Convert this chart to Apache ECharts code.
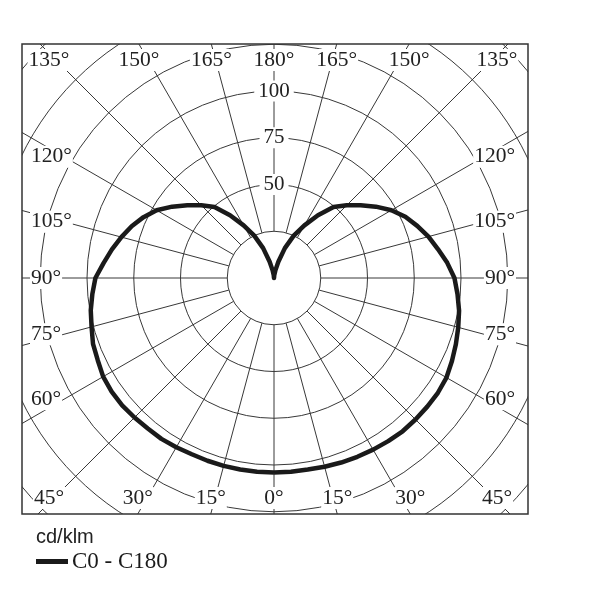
<!DOCTYPE html>
<html>
<head>
<meta charset="utf-8">
<script src="https://cdn.jsdelivr.net/npm/echarts@6/dist/echarts.min.js"></script>
<style>
html,body{margin:0;padding:0;background:#fff;}
#chart{width:600px;height:600px;}
</style>
</head>
<body>
<div id="chart"></div>
<script>
// ---------- data ----------
const gammaAngles = [0,5,10,15,20,25,30,35,40,45,50,55,60,65,70,75,80,85,90,95,100,105,110,115,120,125,130,135,140,145,150,155,160,165,170,175,180];
// C180 half-plane (left side of the diagram), cd/klm
const c180Values = [104,104,104,104,104,104,104.5,105,105,105.5,106,106,105.5,104,103,101,99.5,97.5,95.5,91.5,88,84.5,81,77,72.5,66.5,60.5,55,49.5,41,32.5,25,17,9,4,1.5,0];
// C0 half-plane (right side of the diagram), cd/klm
const c0Values = [104,104,104,104.5,105,105.5,106,106.5,107,107,107,107,106.5,105,103.5,102,100.5,98.5,96.5,93,89,85.5,81.5,77.5,72.5,66.5,60.5,55,49.5,41,32.5,25,17,9,4,1.5,0];
const angleTickLabels = [0,15,30,45,60,75,90,105,120,135,150,165,180];
const radiusTickLabels = [50,75,100];
const seriesName = 'C0 - C180';
const unitLabel = 'cd/klm';

// ---------- layout ----------
const CX = 274, CY = 278;
const PX_PER_UNIT = 1.87;
const R_MAX = 200;
const R_INNER = 25;
const BOX = {x: 22, y: 44, w: 506, h: 470};
const TOP_LABEL_Y = 60, BOTTOM_LABEL_Y = 498;
const LEFT_LABEL_X = 30, RIGHT_LABEL_X = 516;
const SIDE_DX = 210;
const MIN_CX = 49, MAX_CX = 497;
const SERIF = '"Liberation Serif", "Times New Roman", serif';

// curve: left half (angle = gamma), right half (angle = 360 - gamma)
const curve = [];
gammaAngles.forEach((g, i) => curve.push([c180Values[i], g]));
for (let i = gammaAngles.length - 1; i >= 0; i--) curve.push([c0Values[i], 360 - gammaAngles[i]]);

const rad = d => d * Math.PI / 180;
const labelEls = [];
function addLabel(g, side) {
  let x, y, align = 'center';
  if (g >= 135) {
    x = CX + side * (CY - BOX.y) * Math.tan(rad(180 - g));
    x = Math.min(MAX_CX, Math.max(MIN_CX, x));
    y = TOP_LABEL_Y;
  } else if (g <= 45) {
    x = CX + side * (BOX.y + BOX.h - CY) * Math.tan(rad(g));
    x = Math.min(MAX_CX, Math.max(MIN_CX, x));
    y = BOTTOM_LABEL_Y;
  } else {
    y = CY - SIDE_DX * Math.tan(rad(g - 90));
    if (side < 0) { x = LEFT_LABEL_X; align = 'left'; }
    else { x = RIGHT_LABEL_X; align = 'right'; }
  }
  labelEls.push({
    type: 'text', z: 51,
    style: {
      text: g + '°', x: x, y: y, align: align, verticalAlign: 'middle',
      font: '21.5px ' + SERIF, fill: '#222', backgroundColor: '#fff', padding: [0, 1]
    }
  });
}
angleTickLabels.forEach(g => {
  if (g === 0 || g === 180) addLabel(g, 0);
  else { addLabel(g, -1); addLabel(g, 1); }
});

const gridColor = '#383838';
const chart = echarts.init(document.getElementById('chart'), null, {renderer: 'canvas'});
chart.setOption({
  animation: false,
  backgroundColor: '#fff',
  title: {
    text: unitLabel, left: 36, top: 527, z: 60, padding: 0,
    textStyle: {fontFamily: '"Liberation Sans", Arial, sans-serif', fontSize: 20, fontWeight: 'normal', color: '#222'}
  },
  legend: {
    data: [seriesName], left: 36, top: 550, padding: 0, z: 60,
    icon: 'rect', itemWidth: 32, itemHeight: 5, itemGap: 4, selectedMode: false,
    textStyle: {fontFamily: SERIF, fontSize: 23, color: '#1a1a1a', padding: [0, 0, 0, -1]}
  },
  polar: [
    {center: [CX, CY], radius: [R_INNER * PX_PER_UNIT, R_MAX * PX_PER_UNIT]},
    {center: [CX, CY], radius: [0, R_MAX * PX_PER_UNIT]}
  ],
  angleAxis: [
    {
      polarIndex: 0, type: 'value', min: 0, max: 360, interval: 15, startAngle: 90,
      axisLine: {show: false}, axisTick: {show: false}, axisLabel: {show: false},
      splitLine: {show: true, lineStyle: {color: gridColor, width: 1}}
    },
    {polarIndex: 1, type: 'value', min: 0, max: 360, startAngle: 270, clockwise: true, show: false}
  ],
  radiusAxis: [
    {
      polarIndex: 0, type: 'value', min: R_INNER, max: R_MAX, interval: 25,
      axisLine: {show: false}, axisTick: {show: false},
      splitLine: {show: true, lineStyle: {color: gridColor, width: 1}},
      axisLabel: {
        show: true, margin: 0, align: 'center', verticalAlign: 'middle',
        formatter: v => radiusTickLabels.indexOf(v) >= 0 ? '{a|' + v + '}' : '',
        rich: {a: {fontFamily: SERIF, fontSize: 21, color: '#222', backgroundColor: '#fff', padding: [0, 4]}}
      }
    },
    {polarIndex: 1, type: 'value', min: 0, max: R_MAX, show: false}
  ],
  series: [{
    name: seriesName, type: 'line', coordinateSystem: 'polar', polarIndex: 1,
    data: curve, symbol: 'none', smooth: false, z: 10,
    lineStyle: {color: '#1a1a1a', width: 4.5, join: 'round'},
    itemStyle: {color: '#1a1a1a'}
  }],
  graphic: {
    elements: [
      {type: 'rect', z: 50, shape: {x: 0, y: 0, width: 600, height: BOX.y}, style: {fill: '#fff'}},
      {type: 'rect', z: 50, shape: {x: 0, y: BOX.y + BOX.h, width: 600, height: 600}, style: {fill: '#fff'}},
      {type: 'rect', z: 50, shape: {x: 0, y: 0, width: BOX.x, height: 600}, style: {fill: '#fff'}},
      {type: 'rect', z: 50, shape: {x: BOX.x + BOX.w, y: 0, width: 600, height: 600}, style: {fill: '#fff'}},
      ...labelEls,
      {type: 'rect', z: 52, shape: {x: BOX.x, y: BOX.y, width: BOX.w, height: BOX.h}, style: {fill: 'none', stroke: '#333', lineWidth: 1.5}}
    ]
  }
});
</script>
</body>
</html>
